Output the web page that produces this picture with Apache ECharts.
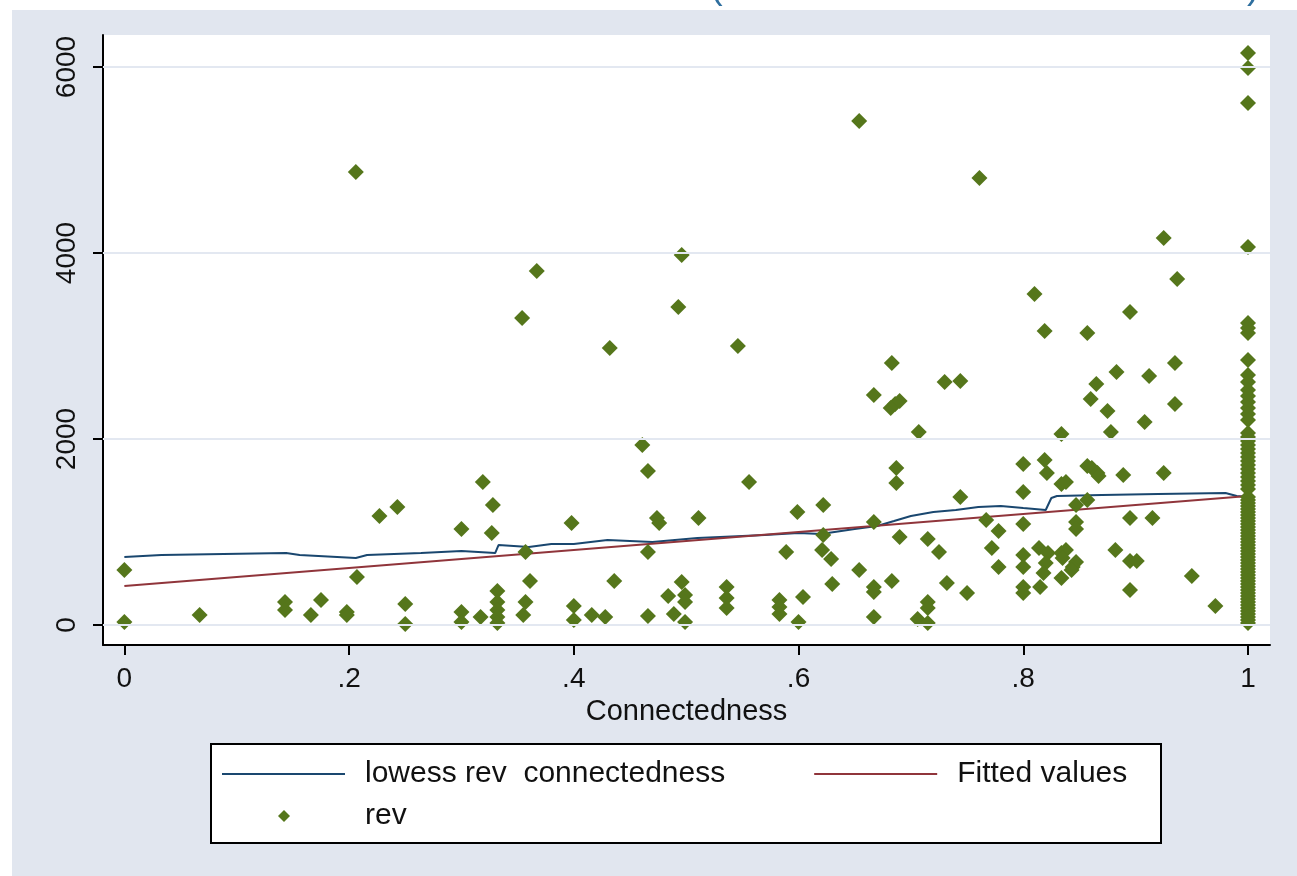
<!DOCTYPE html>
<html>
<head>
<meta charset="utf-8">
<script src="https://cdn.jsdelivr.net/npm/echarts@6/dist/echarts.min.js"></script>
<style>
  html, body { margin: 0; padding: 0; background: #fff; }
  #chart { width: 1297px; height: 876px; }
</style>
</head>
<body>
<div id="chart"></div>
<script>
// scatter: connectedness (x) vs rev (y)
const connectedness = [
  0, 0, 0.067, 0.143, 0.143, 0.166, 0.175, 0.198, 0.198, 0.207, 0.206, 0.227, 0.243, 0.25, 0.25,
  0.30, 0.30, 0.30, 0.317, 0.319, 0.328, 0.327, 0.332, 0.332, 0.332, 0.332, 0.332,
  0.357, 0.361, 0.357, 0.355, 0.354, 0.367, 0.398, 0.40, 0.40, 0.416, 0.428, 0.432, 0.436,
  0.461, 0.466, 0.466, 0.466, 0.474, 0.476, 0.484, 0.489, 0.493, 0.496, 0.496, 0.499, 0.499, 0.499,
  0.511, 0.536, 0.536, 0.536, 0.546, 0.556, 0.583, 0.583, 0.583, 0.589, 0.599, 0.604, 0.60,
  0.622, 0.622, 0.621, 0.629, 0.630, 0.654, 0.654, 0.667, 0.667, 0.667, 0.667, 0.667,
  0.683, 0.682, 0.686, 0.690, 0.687, 0.687, 0.683, 0.690, 0.707, 0.706, 0.715, 0.715, 0.715, 0.715,
  0.725, 0.730, 0.732, 0.744, 0.744, 0.75, 0.761, 0.767, 0.772, 0.778, 0.778,
  0.80, 0.80, 0.80, 0.80, 0.80, 0.80, 0.80,
  0.81, 0.819, 0.819, 0.821, 0.814, 0.815, 0.822, 0.820, 0.818,
  0.834, 0.834, 0.838, 0.834, 0.838, 0.835, 0.834, 0.847, 0.857, 0.847, 0.847, 0.847, 0.844, 0.843,
  0.857, 0.857, 0.861, 0.866, 0.867, 0.865, 0.860, 0.875, 0.878, 0.883, 0.882, 0.889,
  0.895, 0.895, 0.895, 0.901, 0.895, 0.908, 0.912, 0.915, 0.925, 0.925, 0.935, 0.935, 0.937, 0.950, 0.971
]
const rev = [
  591, 32, 108, 247, 161, 108, 269, 140, 108, 516, 4871, 1172, 1269, 226, 11,
  1032, 140, 32, 86, 1538, 1290, 989, 366, 247, 161, 86, 22,
  785, 473, 247, 108, 3301, 3807, 1097, 204, 54, 108, 86, 2979, 473,
  1936, 1656, 785, 97, 1151, 1097, 312, 118, 3419, 3979, 462, 323, 247, 32,
  1151, 409, 290, 183, 3000, 1538, 269, 194, 118, 785, 1215, 301, 32,
  1290, 968, 806, 710, 441, 591, 5420, 2473, 1108, 409, 355, 86,
  2817, 2333, 2376, 2409, 1688, 1527, 473, 946, 2075, 65, 925, 247, 183, 22,
  785, 2613, 452, 2624, 1376, 344, 4807, 1129, 828, 1011, 624,
  1731, 1430, 1086, 753, 624, 409, 344,
  3559, 3161, 1774, 1634, 828, 409, 774, 667, 559,
  2054, 1516, 1538, 774, 806, 720, 505, 1290, 1344, 1108, 1032, 677, 624, 591,
  3140, 1710, 1688, 1634, 1602, 2591, 2430, 2301, 2075, 2720, 806, 1613,
  3366, 1151, 688, 688, 376, 2183, 2677, 1151, 4161, 1634, 2817, 2376, 3721, 527, 204
]
// rev values of the dense column at connectedness = 1
const revFullyConnected = [
  6151, 5989, 5613, 4065, 3247, 3194, 3140, 2849,
  2688, 2613, 2527, 2462, 2398, 2333, 2269, 2204,
  2065, 2022, 1979, 1936, 1893, 1850, 1806, 1763, 1720, 1677, 1634, 1591, 1548, 1505, 1462,
  1376, 1344, 1312, 1280, 1247, 1215, 1183, 1151, 1118, 1086, 1054, 1022, 989, 957, 925,
  892, 860, 828, 796, 763, 731, 699, 667, 634, 602, 570, 538, 505, 473, 441, 409, 376,
  344, 312, 280, 247, 215, 183, 151, 118, 86, 54, 22
]

// lowess smoother
const lowessX = [0, 0.033, 0.144, 0.156, 0.206, 0.216, 0.264, 0.300, 0.330, 0.333, 0.36, 0.38, 0.40, 0.43, 0.47, 0.51, 0.57, 0.60, 0.62, 0.65,
  0.67, 0.685, 0.70, 0.72, 0.74, 0.76, 0.78, 0.80, 0.82, 0.825, 0.83, 0.87, 0.92, 0.98, 0.99, 1.0]
const lowessY = [731, 753, 774, 753, 720, 753, 774, 796, 774, 860, 839, 871, 871, 914, 893, 935, 968, 989, 979, 1032,
  1065, 1118, 1172, 1215, 1237, 1269, 1280, 1258, 1237, 1366, 1387, 1398, 1409, 1419, 1387, 1376]

// linear fit, ends
const fittedX = [0, 1]
const fittedY = [419, 1387]

const xTicks = [0, 0.2, 0.4, 0.6, 0.8, 1]
const xTickLabels = ['0', '.2', '.4', '.6', '.8', '1']
const yTicks = [0, 2000, 4000, 6000]

const font = "'Liberation Sans', Arial, sans-serif"
const lineIcon = 'path://M0,0 L123,0 L123,2 L0,2 Z'

const revPoints = connectedness.map((x, i) => [x, rev[i]])
  .concat(revFullyConnected.map(v => [1, v]))

const chart = echarts.init(document.getElementById('chart'))
chart.setOption({
  backgroundColor: '#e1e6ef',
  animation: false,
  grid: {
    left: 103, right: 27, top: 35, bottom: 231,
    show: true, backgroundColor: '#fff', borderWidth: 0
  },
  xAxis: {
    type: 'value',
    min: -0.019, max: 1.0196,
    name: 'Connectedness',
    nameLocation: 'middle',
    nameGap: 48,
    nameTextStyle: { fontSize: 29, color: '#111', fontFamily: font },
    axisLine: { onZero: false, lineStyle: { color: '#000', width: 2 } },
    axisTick: { length: 10, lineStyle: { color: '#000', width: 2 }, customValues: xTicks },
    axisLabel: {
      customValues: xTicks,
      fontSize: 28, color: '#111', fontFamily: font, margin: 20,
      formatter: v => xTickLabels[xTicks.indexOf(v)]
    },
    splitLine: { show: false }
  },
  yAxis: {
    type: 'value',
    min: -215, max: 6344,
    axisLine: { show: true, onZero: false, lineStyle: { color: '#000', width: 2 } },
    axisTick: { show: true, length: 10, lineStyle: { color: '#000', width: 2 }, customValues: yTicks },
    axisLabel: {
      customValues: yTicks,
      rotate: 90,
      fontSize: 28, color: '#111', fontFamily: font, margin: 22,
      formatter: v => String(v)
    },
    splitLine: { show: false }
  },
  legend: [
    {
      data: [
        { name: 'lowess rev  connectedness', icon: lineIcon },
        { name: 'Fitted values', icon: lineIcon }
      ],
      left: 222, top: 759, padding: 0,
      itemWidth: 123, itemHeight: 14, itemGap: 89,
      textStyle: { fontSize: 30, color: '#111', fontFamily: font, padding: [0, 0, 0, 15] }
    },
    {
      data: [{ name: 'rev', icon: 'diamond' }],
      left: 278, top: 801, padding: 0,
      itemWidth: 12, itemHeight: 12,
      textStyle: { fontSize: 30, color: '#111', fontFamily: font, padding: [0, 0, 0, 70] }
    }
  ],
  graphic: [
    { type: 'rect', left: 0, top: 0, shape: { width: 1297, height: 10 }, style: { fill: '#fff' } },
    { type: 'rect', left: 0, top: 0, shape: { width: 12, height: 876 }, style: { fill: '#fff' } },
    { type: 'text', left: 710, top: -31, style: { text: '(', fontSize: 38, fill: '#2f6f9f', fontFamily: font } },
    { type: 'text', left: 1247, top: -31, style: { text: ')', fontSize: 38, fill: '#2f6f9f', fontFamily: font } },
    {
      type: 'rect', left: 210, top: 743, z: -1,
      shape: { width: 950, height: 99 },
      style: { fill: '#fff', stroke: '#000', lineWidth: 2 }
    }
  ],
  series: [
    {
      name: 'lowess rev  connectedness',
      type: 'line',
      symbol: 'none',
      data: lowessX.map((x, i) => [x, lowessY[i]]),
      lineStyle: { color: '#1a476f', width: 2 },
      itemStyle: { color: '#1a476f' },
      z: 3,
      markLine: {
        silent: true,
        symbol: 'none',
        label: { show: false },
        lineStyle: { color: '#e3e8f1', width: 2, type: 'solid' },
        data: yTicks.map(v => ({ yAxis: v }))
      }
    },
    {
      name: 'Fitted values',
      type: 'line',
      symbol: 'none',
      data: fittedX.map((x, i) => [x, fittedY[i]]),
      lineStyle: { color: '#90353b', width: 2 },
      itemStyle: { color: '#90353b' },
      z: 3
    },
    {
      name: 'rev',
      type: 'scatter',
      symbol: 'diamond',
      symbolSize: 16,
      data: revPoints,
      itemStyle: { color: '#55761b', opacity: 1 },
      z: 4
    }
  ]
})
</script>
</body>
</html>
